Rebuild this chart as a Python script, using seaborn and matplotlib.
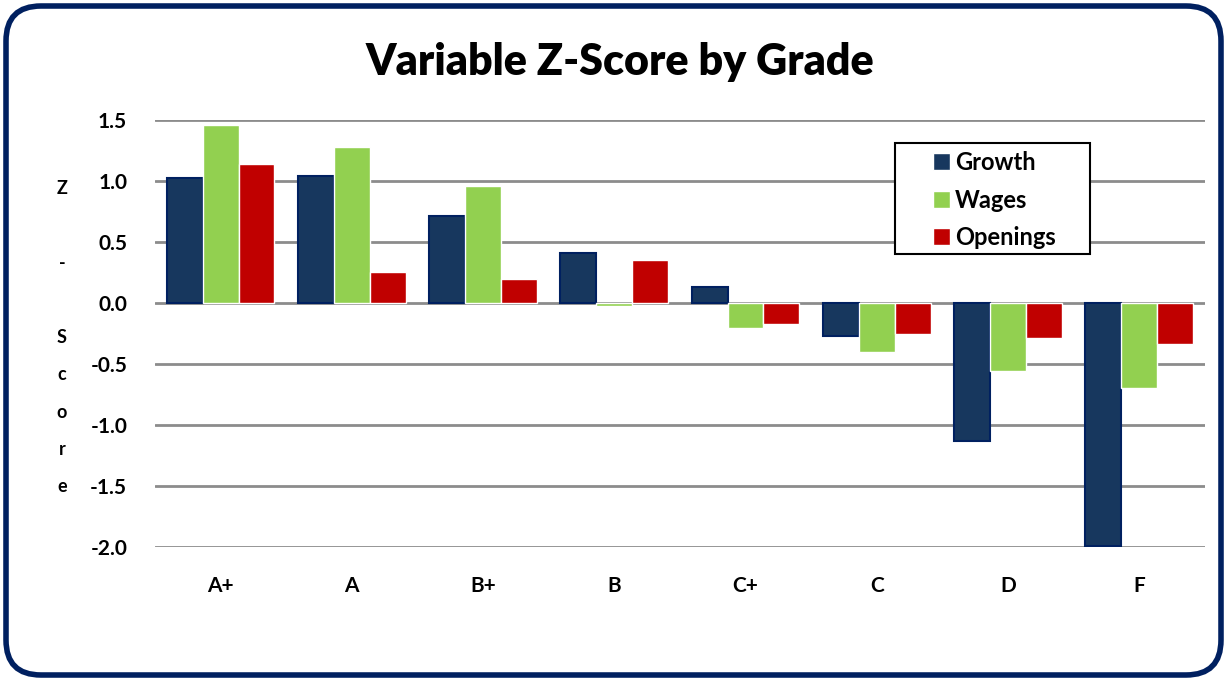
import numpy as np
import pandas as pd
import matplotlib
matplotlib.use("Agg")
import matplotlib.pyplot as plt
import seaborn as sns
from matplotlib.patches import FancyBboxPatch, Rectangle

# data
grades = ["A+", "A", "B+", "B", "C+", "C", "D", "F"]
growth = [1.025, 1.04, 0.71, 0.41, 0.135, -0.27, -1.13, -1.99]
wages = [1.46, 1.275, 0.96, -0.025, -0.205, -0.405, -0.555, -0.70]
openings = [1.14, 0.25, 0.20, 0.35, -0.175, -0.255, -0.29, -0.34]
series = ["Growth", "Wages", "Openings"]
colors = ["#17375E", "#92D050", "#C00000"]

df = pd.DataFrame({"Grade": grades * 3,
                   "Variable": np.repeat(series, len(grades)),
                   "Z": growth + wages + openings})

sns.set_style("white")
plt.rcParams["font.family"] = ["Lato", "DejaVu Sans"]
plt.rcParams["font.weight"] = "bold"
plt.rcParams["text.color"] = "black"
plt.rcParams["xtick.color"] = "black"
plt.rcParams["ytick.color"] = "black"

fig = plt.figure(figsize=(12.25, 6.79), dpi=100)
ax = fig.add_axes([0.1265, 0.1944, 0.857, 0.6289])

sns.barplot(data=df, x="Grade", y="Z", hue="Variable", order=grades,
            hue_order=series, palette=colors, width=0.82, saturation=1,
            ax=ax, zorder=3)

# outline on the navy bars
for bar in ax.containers[0]:
    bar.set_edgecolor("#002060")
    bar.set_linewidth(1.5)

ax.set_ylim(-2.0, 1.5)
ax.set_yticks([-2.0, -1.5, -1.0, -0.5, 0.0, 0.5, 1.0, 1.5])
ax.set_yticklabels([f"{v:.1f}" for v in ax.get_yticks()], fontsize=15, fontweight="bold")
ax.set_xticks(range(len(grades)))
ax.set_xticklabels(grades, fontsize=15, fontweight="bold")
ax.tick_params(axis="y", length=0, pad=20)
ax.tick_params(axis="x", length=0, pad=21)
ax.yaxis.grid(True, color="#8c8c8c", linewidth=2, zorder=0)
ax.set_axisbelow(True)
for s in ax.spines.values():
    s.set_visible(False)
ax.set_xlabel("")
ax.set_ylabel("")

fig.text(62 / 1225, 1 - 180 / 679, "Z\n\n-\n\nS\nc\no\nr\ne", ha="center", va="top",
         fontsize=13, fontweight="bold", linespacing=2.45)

fig.text(0.506, 1 - 75 / 679, "Variable Z-Score by Grade", ha="center", va="baseline",
         fontsize=31, fontweight="heavy")

# legend frame, drawn inside the axes so it sits under the legend
ax.add_patch(Rectangle((895 / 1225, 1 - 254 / 679), 195 / 1225, 111 / 679,
                       transform=fig.transFigure, facecolor="white",
                       edgecolor="black", linewidth=1.5, zorder=4, clip_on=False))

leg = ax.legend(loc="center left", bbox_to_anchor=(933 / 1225, 1 - 200 / 679),
                bbox_transform=fig.transFigure, fontsize=17, frameon=False,
                handlelength=0.72, handleheight=0.72, handletextpad=0.2,
                borderpad=0, labelspacing=0.62, borderaxespad=0)
for t in leg.get_texts():
    t.set_fontweight("bold")
leg.set_zorder(5)

border = FancyBboxPatch((0.06, 0.04), 12.15, 6.69,
                        boxstyle="round,pad=0,rounding_size=0.35",
                        transform=fig.dpi_scale_trans, facecolor="none",
                        edgecolor="#002060", linewidth=4)
fig.patches.append(border)

fig.savefig("out.png", dpi=100)
